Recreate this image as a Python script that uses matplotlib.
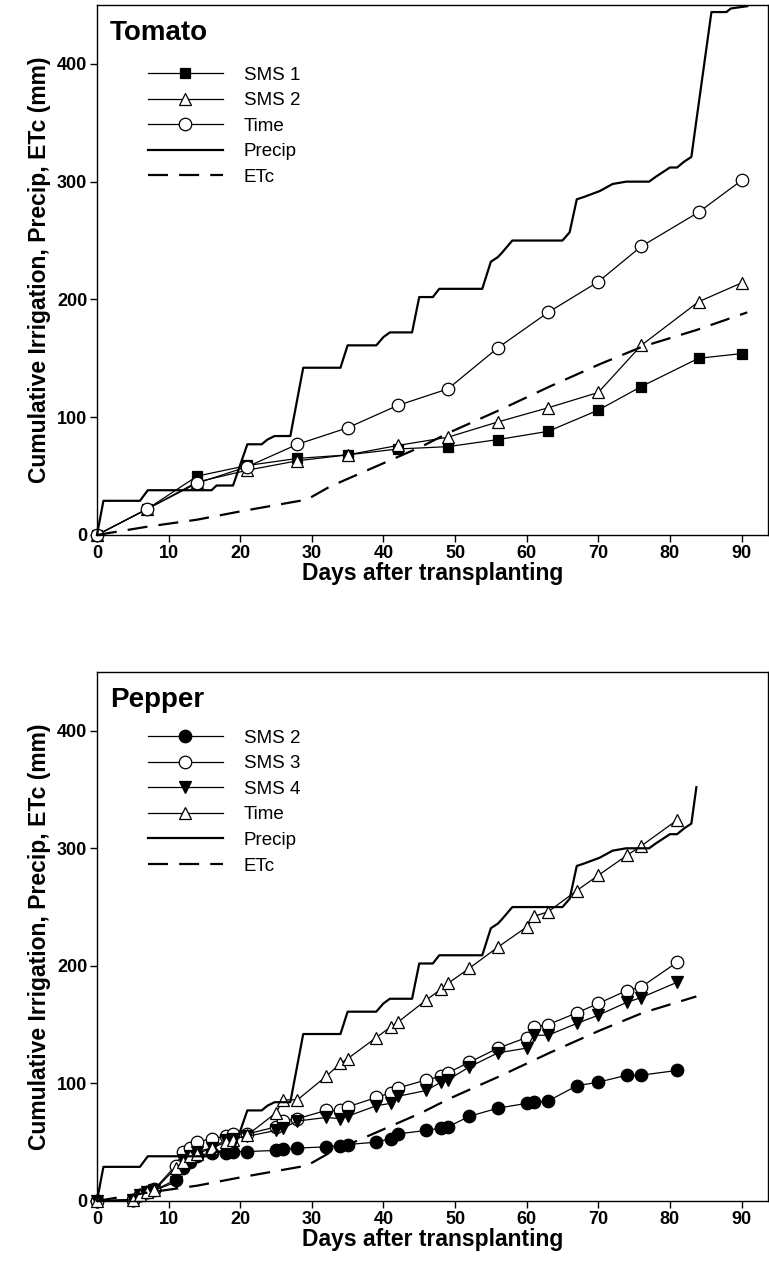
import matplotlib
matplotlib.use("Agg")
import matplotlib.pyplot as plt

plt.rcParams["font.family"] = ["Liberation Sans", "DejaVu Sans"]

# shared weather series (same station for both crops)
precip_days = [0, 0.9, 6, 7.1, 16, 16.7, 19, 21, 23, 23.8, 24.8, 27, 28.8, 34, 35, 39, 40, 40.9,
               44, 45, 46.9, 47.8, 53.8, 55, 56, 56.6, 58, 65, 66, 67, 68, 70.2, 72, 73.9, 77.1,
               78, 80, 81, 82, 83, 83.7, 85.8, 87.9, 88.5, 90.8]
precip_mm = [0, 29, 29, 38, 38, 42, 42, 77, 77, 81, 84, 84, 142, 142, 161, 161, 168, 172,
             172, 202, 202, 209, 209, 232, 236, 240, 250, 250, 257, 285, 287, 292, 298, 300, 300,
             304, 312, 312, 317, 321, 352, 444, 444, 447, 449]
etc_days = [0, 7, 14, 20, 27.4, 29.3, 32.5, 45.3, 49.2, 56.2, 63.2, 70.2, 76.2, 83.7, 90.8]
etc_mm = [0, 7, 13, 20, 28, 30, 41, 75, 87, 106, 126, 145, 160, 174, 189]

# tomato irrigation
tomato_days = [0, 7, 14, 21, 28, 35, 42, 49, 56, 63, 70, 76, 84, 90]
tomato_sms1 = [0, 22, 50, 59, 65, 68, 73, 75, 81, 88, 106, 126, 150, 154]
tomato_sms2 = [0, 22, 45, 55, 63, 68, 76, 83, 96, 108, 121, 161, 198, 214]
tomato_time = [0, 22, 44, 58, 77, 91, 110, 124, 159, 189, 215, 245, 274, 301]

# pepper irrigation
pepper_days = [0, 5, 6, 7, 8, 11, 12, 13, 14, 16, 18, 19, 21, 25, 26, 28, 32, 34, 35, 39, 41, 42,
               46, 48, 49, 52, 56, 60, 61, 63, 67, 70, 74, 76, 81]
pepper_sms2 = [0, 1, 5, 8, 9, 18, 28, 33, 38, 41, 41, 42, 42, 43, 44, 45, 46, 47, 48, 50, 53, 57,
               60, 62, 63, 72, 79, 83, 84, 85, 98, 101, 107, 107, 111]
pepper_sms3 = [0, 1, 5, 8, 10, 30, 42, 45, 50, 53, 55, 57, 57, 63, 68, 70, 77, 77, 80, 88, 92, 96,
               103, 106, 109, 118, 130, 139, 148, 150, 160, 168, 179, 182, 203]
pepper_sms4 = [0, 1, 5, 8, 9, 16, 35, 38, 42, 45, 52, 53, 55, 60, 62, 68, 71, 70, 72, 81, 83, 89,
               94, 101, 103, 114, 126, 130, 141, 141, 151, 158, 169, 173, 186]
pepper_time = [0, 1, 5, 8, 9, 28, 33, 38, 40, 45, 50, 52, 56, 75, 86, 86, 106, 117, 121, 139, 148,
               152, 171, 180, 185, 198, 216, 233, 242, 246, 264, 277, 294, 302, 324]

PEPPER_END = 83.7

LINE = dict(color="black", lw=0.9, mec="black", mew=0.9)


def _style(ax, title):
    ax.set_xlim(0, 93.7)
    ax.set_ylim(0, 450)
    ax.set_xticks(range(0, 91, 10))
    ax.set_yticks(range(0, 401, 100))
    ax.tick_params(direction="out", length=5, width=1, labelsize=13, pad=2)
    for lab in ax.get_xticklabels() + ax.get_yticklabels():
        lab.set_fontweight("bold")
    for sp in ax.spines.values():
        sp.set_linewidth(1)
    ax.set_xlabel("Days after transplanting", fontsize=16.5, fontweight="bold", labelpad=0)
    ax.set_ylabel("Cumulative Irrigation, Precip, ETc (mm)", fontsize=16.5, fontweight="bold",
                  labelpad=4)
    ax.text(0.019, 0.947, title, transform=ax.transAxes, fontsize=20, fontweight="bold",
            ha="left", va="center")


def _weather(ax, end=None):
    pd_ = [d for d in precip_days if end is None or d <= end]
    ed_ = [d for d in etc_days if end is None or d <= end]
    ax.plot(pd_, precip_mm[:len(pd_)], color="black", lw=1.6, label="Precip")
    ax.plot(ed_, etc_mm[:len(ed_)], color="black", lw=1.6, dashes=(9, 5), label="ETc")


def _legend(ax, y):
    ax.legend(loc="upper left", bbox_to_anchor=(0.076, y), frameon=False, fontsize=13.5,
              handlelength=4.0, handletextpad=1.1, labelspacing=0.45, borderpad=0,
              borderaxespad=0)


fig = plt.figure(figsize=(7.69, 12.78), dpi=100)
ax1 = fig.add_axes([0.1261, 0.5814, 0.8726, 0.4147])
ax2 = fig.add_axes([0.1261, 0.0603, 0.8726, 0.4139])

ax1.plot(tomato_days, tomato_sms1, marker="s", ms=7, mfc="black", label="SMS 1", **LINE)
ax1.plot(tomato_days, tomato_sms2, marker="^", ms=9, mfc="white", label="SMS 2", **LINE)
ax1.plot(tomato_days, tomato_time, marker="o", ms=9, mfc="white", label="Time", **LINE)
_weather(ax1)
_style(ax1, "Tomato")
_legend(ax1, 0.884)

ax2.plot(pepper_days, pepper_sms2, marker="o", ms=9, mfc="black", label="SMS 2", **LINE)
ax2.plot(pepper_days, pepper_sms3, marker="o", ms=9, mfc="white", label="SMS 3", **LINE)
ax2.plot(pepper_days, pepper_sms4, marker="v", ms=9, mfc="black", label="SMS 4", **LINE)
ax2.plot(pepper_days, pepper_time, marker="^", ms=9, mfc="white", label="Time", **LINE)
_weather(ax2, PEPPER_END)
_style(ax2, "Pepper")
_legend(ax2, 0.891)

for ax in (ax1, ax2):
    for ln in ax.lines:
        ln.set_clip_on(False)

fig.savefig("out.png", dpi=100)
